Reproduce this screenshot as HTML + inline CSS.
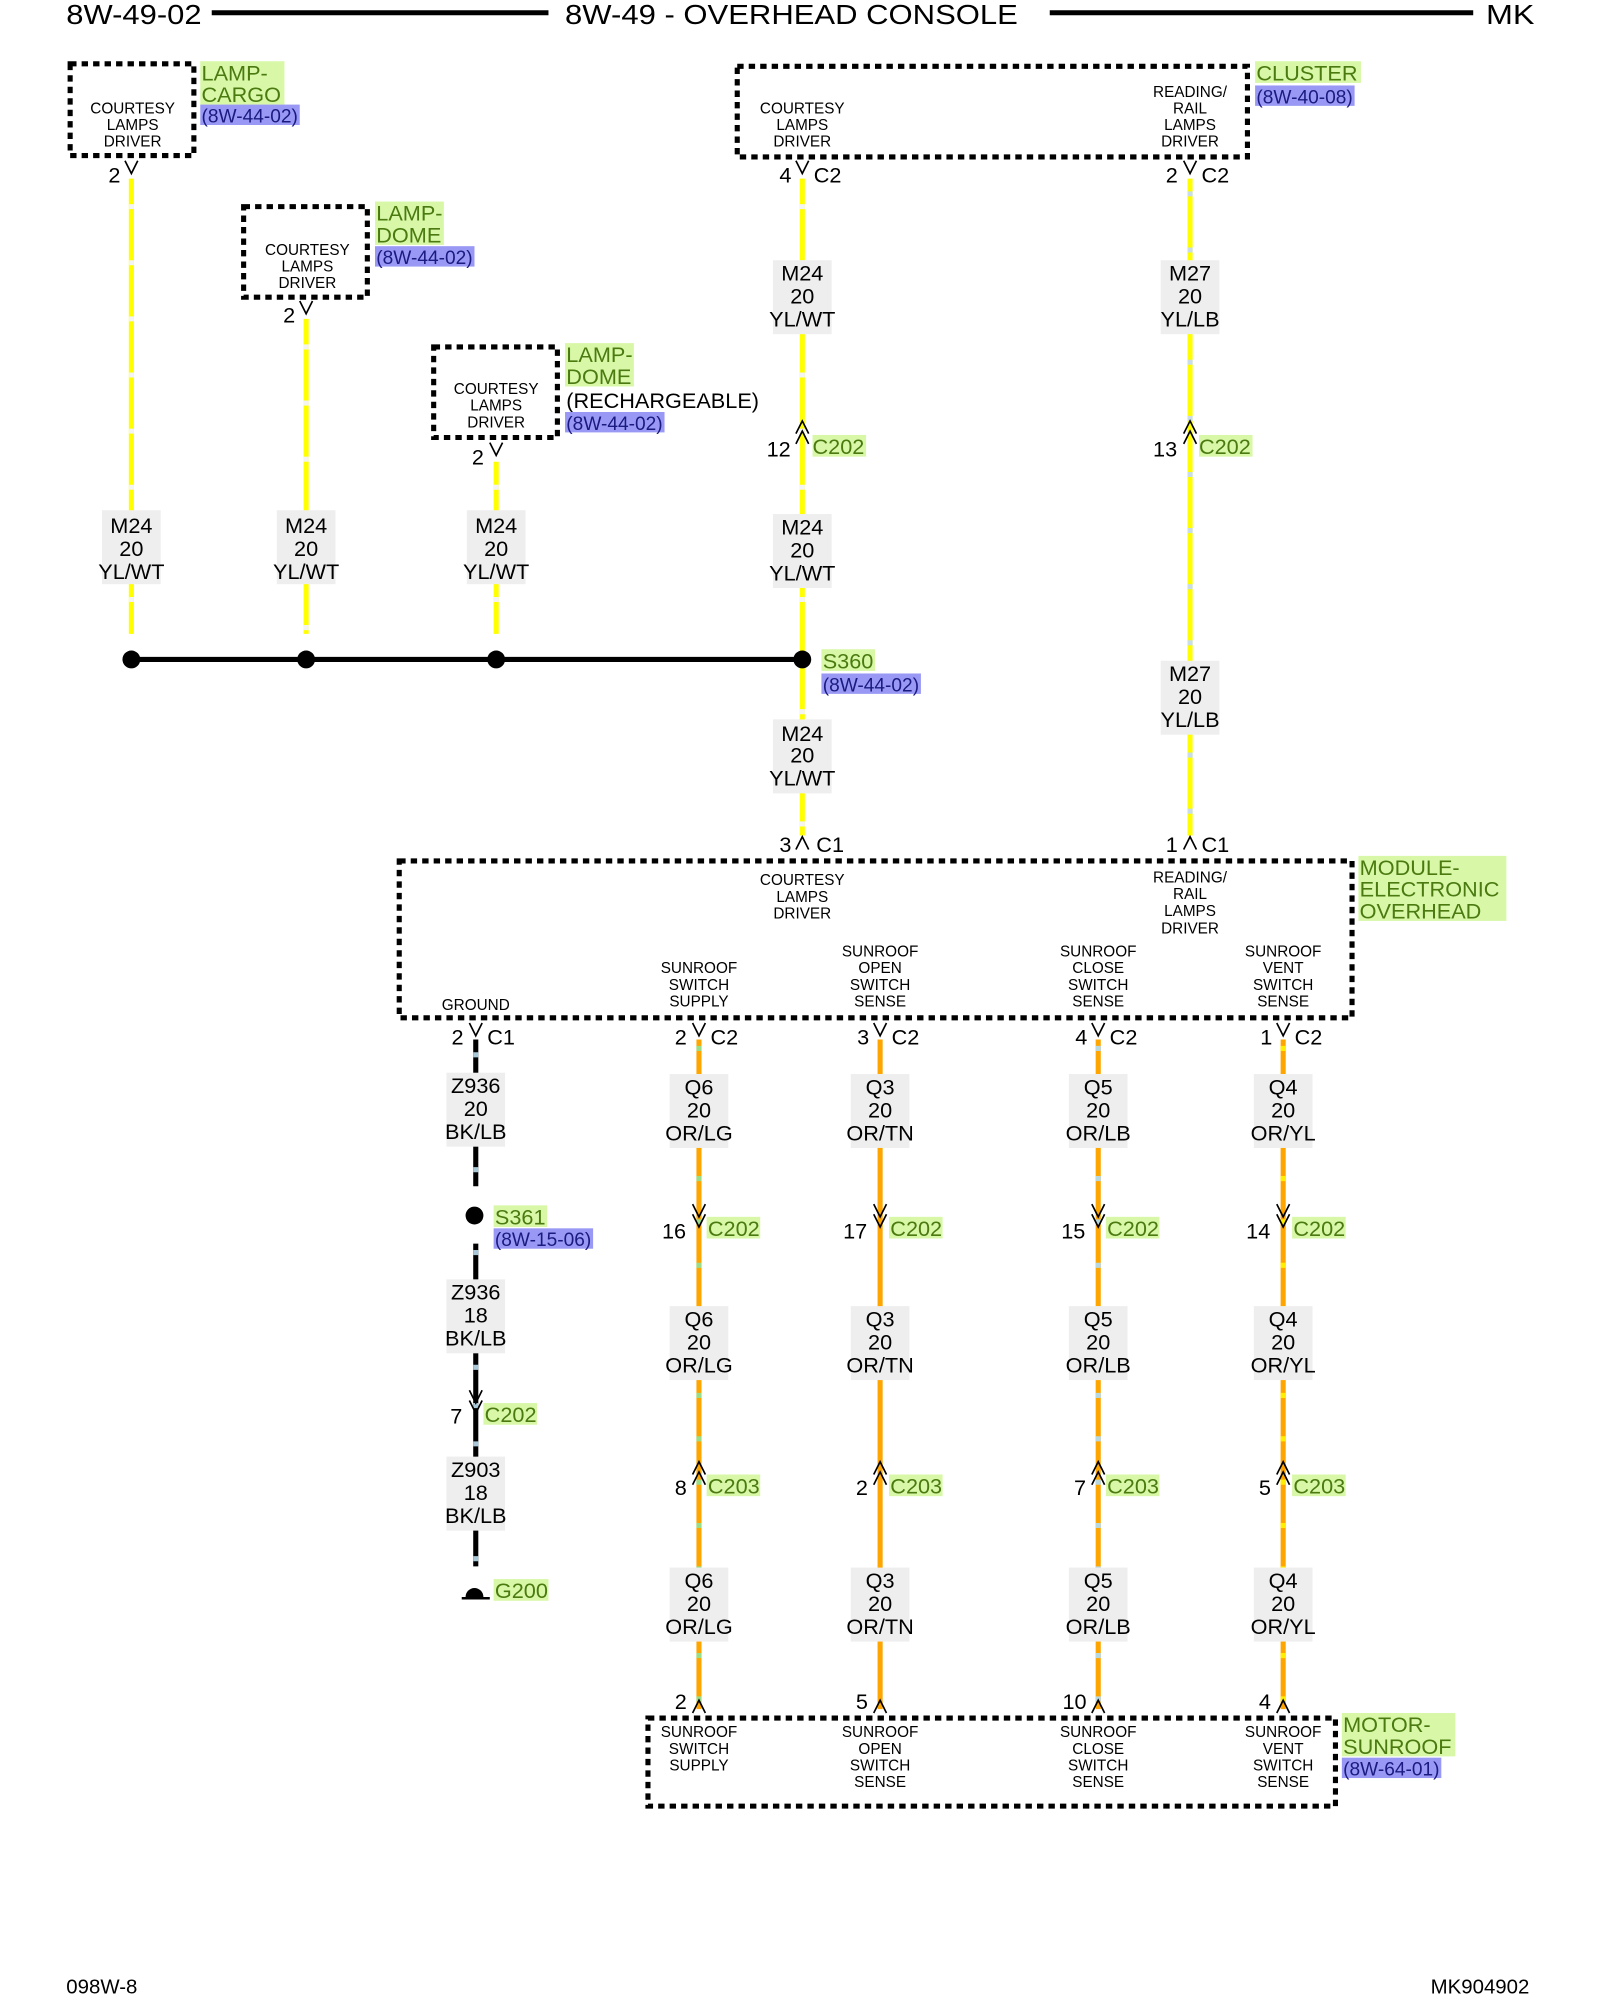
<!DOCTYPE html>
<html><head><meta charset="utf-8"><style>
html,body{margin:0;padding:0;background:#fff}
svg{display:block}
text{font-family:"Liberation Sans",sans-serif;fill:#000}
.h{font-size:22px}
.s{font-size:12px;text-anchor:middle}
.w{font-size:17px;text-anchor:middle}
.p{font-size:17px}
.g{font-size:17px;fill:#4a7a10}
.b{font-size:15px;fill:#1a1a80}
.box{fill:none;stroke:#000;stroke-width:4;stroke-dasharray:5 4}
.yl{stroke:#ffff00;stroke-width:4}
.yd{stroke:#f4f4f4;stroke-width:4;stroke-dasharray:4 40}
.or{stroke:#ffa500;stroke-width:4}
.od{stroke:#99dd88;stroke-width:4;stroke-dasharray:4 30}
.bk{stroke:#000;stroke-width:4}
.bd{stroke:#a8c8d8;stroke-width:4;stroke-dasharray:4 26}
.lb{fill:#eeeeee}
.gb{fill:#d8f8a8}
.bb{fill:#9999f5}
.ch{fill:none;stroke:#000;stroke-width:1.3}
</style></head><body>
<svg width="1600" height="2000" viewBox="0 0 1254.4 1568" preserveAspectRatio="none" xmlns="http://www.w3.org/2000/svg">
<text class="h" x="52" y="19" textLength="106" lengthAdjust="spacingAndGlyphs">8W-49-02</text>
<line x1="166" y1="10" x2="430" y2="10" stroke="#000" stroke-width="4"/>
<text class="h" x="443" y="19" textLength="355" lengthAdjust="spacingAndGlyphs">8W-49 - OVERHEAD CONSOLE</text>
<line x1="823" y1="10" x2="1155" y2="10" stroke="#000" stroke-width="4"/>
<text class="h" x="1165" y="19" textLength="38" lengthAdjust="spacingAndGlyphs">MK</text>

<g>
<line class="yl" x1="103" y1="140" x2="103" y2="497"/><line class="yd" x1="103" y1="160" x2="103" y2="497"/>
<line class="yl" x1="240" y1="250" x2="240" y2="497"/><line class="yd" x1="240" y1="270" x2="240" y2="497"/>
<line class="yl" x1="389" y1="362" x2="389" y2="497"/><line class="yd" x1="389" y1="380" x2="389" y2="497"/>
<line class="yl" x1="629" y1="140" x2="629" y2="655"/><line class="yd" x1="629" y1="160" x2="629" y2="655"/>
<line class="yl" x1="933" y1="140" x2="933" y2="655"/><line class="yd" x1="933" y1="150" x2="933" y2="655" style="stroke:#c8dde8"/>
</g>

<rect class="box" x="55" y="50" width="97" height="72"/>
<text class="s" x="104" y="89">COURTESY</text><text class="s" x="104" y="102">LAMPS</text><text class="s" x="104" y="115">DRIVER</text>
<rect class="gb" x="157" y="48" width="66" height="34"/><text class="g" x="158" y="63">LAMP-</text><text class="g" x="158" y="80">CARGO</text>
<rect class="bb" x="157" y="82" width="78" height="16"/><text class="b" x="158" y="96">(8W-44-02)</text>
<text class="p" x="85" y="143">2</text><polyline class="ch" points="98,126 103,136 108,126"/>

<rect class="box" x="191" y="162" width="97" height="71"/>
<text class="s" x="241" y="200">COURTESY</text><text class="s" x="241" y="213">LAMPS</text><text class="s" x="241" y="226">DRIVER</text>
<rect class="gb" x="294" y="158" width="54" height="34"/><text class="g" x="295" y="173">LAMP-</text><text class="g" x="295" y="190">DOME</text>
<rect class="bb" x="294" y="193" width="78" height="16"/><text class="b" x="295" y="207">(8W-44-02)</text>
<text class="p" x="222" y="253">2</text><polyline class="ch" points="235,236 240,246 245,236"/>

<rect class="box" x="340" y="272" width="97" height="71"/>
<text class="s" x="389" y="309">COURTESY</text><text class="s" x="389" y="322">LAMPS</text><text class="s" x="389" y="335">DRIVER</text>
<rect class="gb" x="443" y="269" width="54" height="34"/><text class="g" x="444" y="284">LAMP-</text><text class="g" x="444" y="301">DOME</text>
<text class="p" x="444" y="320">(RECHARGEABLE)</text>
<rect class="bb" x="443" y="323" width="78" height="16"/><text class="b" x="444" y="337">(8W-44-02)</text>
<text class="p" x="370" y="364">2</text><polyline class="ch" points="384,347 389,357 394,347"/>

<rect class="box" x="578" y="52" width="400" height="71"/>
<text class="s" x="629" y="89">COURTESY</text><text class="s" x="629" y="102">LAMPS</text><text class="s" x="629" y="115">DRIVER</text>
<text class="s" x="933" y="76">READING/</text><text class="s" x="933" y="89">RAIL</text><text class="s" x="933" y="102">LAMPS</text><text class="s" x="933" y="115">DRIVER</text>
<rect class="gb" x="984" y="48" width="83" height="17"/><text class="g" x="985" y="63">CLUSTER</text>
<rect class="bb" x="984" y="67" width="78" height="16"/><text class="b" x="985" y="81">(8W-40-08)</text>
<text class="p" x="611" y="143">4</text><polyline class="ch" points="624,126 629,136 634,126"/><text class="p" x="638" y="143">C2</text>
<text class="p" x="914" y="143">2</text><polyline class="ch" points="928,126 933,136 938,126"/><text class="p" x="942" y="143">C2</text>

<g>
<rect class="lb" x="80" y="400" width="46" height="58"/><text class="w" x="103" y="418">M24</text><text class="w" x="103" y="436">20</text><text class="w" x="103" y="454">YL/WT</text>
<rect class="lb" x="217" y="400" width="46" height="58"/><text class="w" x="240" y="418">M24</text><text class="w" x="240" y="436">20</text><text class="w" x="240" y="454">YL/WT</text>
<rect class="lb" x="366" y="400" width="46" height="58"/><text class="w" x="389" y="418">M24</text><text class="w" x="389" y="436">20</text><text class="w" x="389" y="454">YL/WT</text>
<rect class="lb" x="606" y="204" width="46" height="58"/><text class="w" x="629" y="220">M24</text><text class="w" x="629" y="238">20</text><text class="w" x="629" y="256">YL/WT</text>
<rect class="lb" x="606" y="403" width="46" height="58"/><text class="w" x="629" y="419">M24</text><text class="w" x="629" y="437">20</text><text class="w" x="629" y="455">YL/WT</text>
<rect class="lb" x="606" y="564" width="46" height="58"/><text class="w" x="629" y="581">M24</text><text class="w" x="629" y="598">20</text><text class="w" x="629" y="616">YL/WT</text>
<rect class="lb" x="910" y="204" width="46" height="58"/><text class="w" x="933" y="220">M27</text><text class="w" x="933" y="238">20</text><text class="w" x="933" y="256">YL/LB</text>
<rect class="lb" x="910" y="518" width="46" height="58"/><text class="w" x="933" y="534">M27</text><text class="w" x="933" y="552">20</text><text class="w" x="933" y="570">YL/LB</text>
</g>

<rect class="gb" x="637" y="341" width="42" height="17"/><text class="g" x="637" y="356">C202</text>
<text class="p" x="601" y="358">12</text><polyline class="ch" points="624,340 629,330 634,340"/><polyline class="ch" points="624,348 629,338 634,348"/>
<rect class="gb" x="940" y="341" width="42" height="17"/><text class="g" x="940" y="356">C202</text>
<text class="p" x="904" y="358">13</text><polyline class="ch" points="928,340 933,330 938,340"/><polyline class="ch" points="928,348 933,338 938,348"/>

<line x1="103" y1="517" x2="629" y2="517" stroke="#000" stroke-width="4"/>
<circle cx="103" cy="517" r="7"/><circle cx="240" cy="517" r="7"/><circle cx="389" cy="517" r="7"/><circle cx="629" cy="517" r="7"/>
<rect class="gb" x="644" y="509" width="42" height="17"/><text class="g" x="645" y="524">S360</text>
<rect class="bb" x="644" y="528" width="78" height="16"/><text class="b" x="645" y="542">(8W-44-02)</text>

<text class="p" x="611" y="668">3</text><polyline class="ch" points="624,666 629,656 634,666"/><text class="p" x="640" y="668">C1</text>
<text class="p" x="914" y="668">1</text><polyline class="ch" points="928,666 933,656 938,666"/><text class="p" x="942" y="668">C1</text>

<rect class="box" x="313" y="675" width="747" height="123"/>
<text class="s" x="629" y="694">COURTESY</text><text class="s" x="629" y="707">LAMPS</text><text class="s" x="629" y="720">DRIVER</text>
<text class="s" x="933" y="692">READING/</text><text class="s" x="933" y="705">RAIL</text><text class="s" x="933" y="718">LAMPS</text><text class="s" x="933" y="732">DRIVER</text>
<text class="s" x="373" y="792">GROUND</text>
<text class="s" x="548" y="763">SUNROOF</text><text class="s" x="548" y="776">SWITCH</text><text class="s" x="548" y="789">SUPPLY</text>
<text class="s" x="690" y="750">SUNROOF</text><text class="s" x="690" y="763">OPEN</text><text class="s" x="690" y="776">SWITCH</text><text class="s" x="690" y="789">SENSE</text>
<text class="s" x="861" y="750">SUNROOF</text><text class="s" x="861" y="763">CLOSE</text><text class="s" x="861" y="776">SWITCH</text><text class="s" x="861" y="789">SENSE</text>
<text class="s" x="1006" y="750">SUNROOF</text><text class="s" x="1006" y="763">VENT</text><text class="s" x="1006" y="776">SWITCH</text><text class="s" x="1006" y="789">SENSE</text>
<rect class="gb" x="1065" y="671" width="116" height="51"/>
<text class="g" x="1066" y="686">MODULE-</text><text class="g" x="1066" y="703">ELECTRONIC</text><text class="g" x="1066" y="720">OVERHEAD</text>

<line class="bk" x1="373" y1="815" x2="373" y2="930"/><line class="bd" x1="373" y1="825" x2="373" y2="930"/>
<line class="bk" x1="373" y1="975" x2="373" y2="1228"/><line class="bd" x1="373" y1="980" x2="373" y2="1228"/>
<line class="or" x1="548" y1="815" x2="548" y2="1340"/><line class="od" x1="548" y1="820" x2="548" y2="1340"/>
<line class="or" x1="690" y1="815" x2="690" y2="1340"/>
<line class="or" x1="861" y1="815" x2="861" y2="1340"/><line class="od" x1="861" y1="820" x2="861" y2="1340" style="stroke:#b8d8e0"/>
<line class="or" x1="1006" y1="815" x2="1006" y2="1340"/><line class="od" x1="1006" y1="820" x2="1006" y2="1340" style="stroke:#ffee00"/>

<text class="p" x="354" y="819">2</text><polyline class="ch" points="368,802 373,812 378,802"/><text class="p" x="382" y="819">C1</text>
<text class="p" x="529" y="819">2</text><polyline class="ch" points="543,802 548,812 553,802"/><text class="p" x="557" y="819">C2</text>
<text class="p" x="672" y="819">3</text><polyline class="ch" points="685,802 690,812 695,802"/><text class="p" x="699" y="819">C2</text>
<text class="p" x="843" y="819">4</text><polyline class="ch" points="856,802 861,812 866,802"/><text class="p" x="870" y="819">C2</text>
<text class="p" x="988" y="819">1</text><polyline class="ch" points="1001,802 1006,812 1011,802"/><text class="p" x="1015" y="819">C2</text>

<rect class="lb" x="350" y="841" width="46" height="58"/><text class="w" x="373" y="857">Z936</text><text class="w" x="373" y="875">20</text><text class="w" x="373" y="893">BK/LB</text>
<circle cx="372" cy="953" r="7"/>
<rect class="gb" x="387" y="945" width="42" height="17"/><text class="g" x="388" y="960">S361</text>
<rect class="bb" x="387" y="963" width="78" height="16"/><text class="b" x="388" y="977">(8W-15-06)</text>
<rect class="lb" x="350" y="1003" width="46" height="58"/><text class="w" x="373" y="1019">Z936</text><text class="w" x="373" y="1037">18</text><text class="w" x="373" y="1055">BK/LB</text>
<text class="p" x="353" y="1116">7</text><polyline class="ch" points="368,1090 373,1100 378,1090"/><polyline class="ch" points="368,1098 373,1108 378,1098"/>
<rect class="gb" x="379" y="1100" width="42" height="17"/><text class="g" x="380" y="1115">C202</text>
<rect class="lb" x="350" y="1142" width="46" height="58"/><text class="w" x="373" y="1158">Z903</text><text class="w" x="373" y="1176">18</text><text class="w" x="373" y="1194">BK/LB</text>
<path d="M365,1252 A7,7 0 0 1 379,1252 Z" fill="#000"/><line x1="362" y1="1253" x2="384" y2="1253" stroke="#000" stroke-width="2"/>
<rect class="gb" x="387" y="1238" width="43" height="17"/><text class="g" x="388" y="1253">G200</text>

<g>
<rect class="lb" x="525" y="842" width="46" height="58"/><text class="w" x="548" y="858">Q6</text><text class="w" x="548" y="876">20</text><text class="w" x="548" y="894">OR/LG</text>
<rect class="lb" x="667" y="842" width="46" height="58"/><text class="w" x="690" y="858">Q3</text><text class="w" x="690" y="876">20</text><text class="w" x="690" y="894">OR/TN</text>
<rect class="lb" x="838" y="842" width="46" height="58"/><text class="w" x="861" y="858">Q5</text><text class="w" x="861" y="876">20</text><text class="w" x="861" y="894">OR/LB</text>
<rect class="lb" x="983" y="842" width="46" height="58"/><text class="w" x="1006" y="858">Q4</text><text class="w" x="1006" y="876">20</text><text class="w" x="1006" y="894">OR/YL</text>

<rect class="lb" x="525" y="1024" width="46" height="58"/><text class="w" x="548" y="1040">Q6</text><text class="w" x="548" y="1058">20</text><text class="w" x="548" y="1076">OR/LG</text>
<rect class="lb" x="667" y="1024" width="46" height="58"/><text class="w" x="690" y="1040">Q3</text><text class="w" x="690" y="1058">20</text><text class="w" x="690" y="1076">OR/TN</text>
<rect class="lb" x="838" y="1024" width="46" height="58"/><text class="w" x="861" y="1040">Q5</text><text class="w" x="861" y="1058">20</text><text class="w" x="861" y="1076">OR/LB</text>
<rect class="lb" x="983" y="1024" width="46" height="58"/><text class="w" x="1006" y="1040">Q4</text><text class="w" x="1006" y="1058">20</text><text class="w" x="1006" y="1076">OR/YL</text>

<rect class="lb" x="525" y="1229" width="46" height="58"/><text class="w" x="548" y="1245">Q6</text><text class="w" x="548" y="1263">20</text><text class="w" x="548" y="1281">OR/LG</text>
<rect class="lb" x="667" y="1229" width="46" height="58"/><text class="w" x="690" y="1245">Q3</text><text class="w" x="690" y="1263">20</text><text class="w" x="690" y="1281">OR/TN</text>
<rect class="lb" x="838" y="1229" width="46" height="58"/><text class="w" x="861" y="1245">Q5</text><text class="w" x="861" y="1263">20</text><text class="w" x="861" y="1281">OR/LB</text>
<rect class="lb" x="983" y="1229" width="46" height="58"/><text class="w" x="1006" y="1245">Q4</text><text class="w" x="1006" y="1263">20</text><text class="w" x="1006" y="1281">OR/YL</text>
</g>

<text class="p" x="519" y="971">16</text><polyline class="ch" points="543,944 548,954 553,944"/><polyline class="ch" points="543,952 548,962 553,952"/>
<rect class="gb" x="554" y="954" width="42" height="17"/><text class="g" x="555" y="969">C202</text>
<text class="p" x="661" y="971">17</text><polyline class="ch" points="685,944 690,954 695,944"/><polyline class="ch" points="685,952 690,962 695,952"/>
<rect class="gb" x="697" y="954" width="42" height="17"/><text class="g" x="698" y="969">C202</text>
<text class="p" x="832" y="971">15</text><polyline class="ch" points="856,944 861,954 866,944"/><polyline class="ch" points="856,952 861,962 866,952"/>
<rect class="gb" x="867" y="954" width="42" height="17"/><text class="g" x="868" y="969">C202</text>
<text class="p" x="977" y="971">14</text><polyline class="ch" points="1001,944 1006,954 1011,944"/><polyline class="ch" points="1001,952 1006,962 1011,952"/>
<rect class="gb" x="1013" y="954" width="42" height="17"/><text class="g" x="1014" y="969">C202</text>

<text class="p" x="529" y="1172">8</text><polyline class="ch" points="543,1156 548,1146 553,1156"/><polyline class="ch" points="543,1164 548,1154 553,1164"/>
<rect class="gb" x="554" y="1156" width="42" height="17"/><text class="g" x="555" y="1171">C203</text>
<text class="p" x="671" y="1172">2</text><polyline class="ch" points="685,1156 690,1146 695,1156"/><polyline class="ch" points="685,1164 690,1154 695,1164"/>
<rect class="gb" x="697" y="1156" width="42" height="17"/><text class="g" x="698" y="1171">C203</text>
<text class="p" x="842" y="1172">7</text><polyline class="ch" points="856,1156 861,1146 866,1156"/><polyline class="ch" points="856,1164 861,1154 866,1164"/>
<rect class="gb" x="867" y="1156" width="42" height="17"/><text class="g" x="868" y="1171">C203</text>
<text class="p" x="987" y="1172">5</text><polyline class="ch" points="1001,1156 1006,1146 1011,1156"/><polyline class="ch" points="1001,1164 1006,1154 1011,1164"/>
<rect class="gb" x="1013" y="1156" width="42" height="17"/><text class="g" x="1014" y="1171">C203</text>

<text class="p" x="529" y="1340">2</text><polyline class="ch" points="543,1343 548,1333 553,1343"/>
<text class="p" x="671" y="1340">5</text><polyline class="ch" points="685,1343 690,1333 695,1343"/>
<text class="p" x="833" y="1340">10</text><polyline class="ch" points="856,1343 861,1333 866,1343"/>
<text class="p" x="987" y="1340">4</text><polyline class="ch" points="1001,1343 1006,1333 1011,1343"/>

<rect class="box" x="508" y="1347" width="539" height="69"/>
<text class="s" x="548" y="1362">SUNROOF</text><text class="s" x="548" y="1375">SWITCH</text><text class="s" x="548" y="1388">SUPPLY</text>
<text class="s" x="690" y="1362">SUNROOF</text><text class="s" x="690" y="1375">OPEN</text><text class="s" x="690" y="1388">SWITCH</text><text class="s" x="690" y="1401">SENSE</text>
<text class="s" x="861" y="1362">SUNROOF</text><text class="s" x="861" y="1375">CLOSE</text><text class="s" x="861" y="1388">SWITCH</text><text class="s" x="861" y="1401">SENSE</text>
<text class="s" x="1006" y="1362">SUNROOF</text><text class="s" x="1006" y="1375">VENT</text><text class="s" x="1006" y="1388">SWITCH</text><text class="s" x="1006" y="1401">SENSE</text>
<rect class="gb" x="1052" y="1343" width="89" height="34"/>
<text class="g" x="1053" y="1358">MOTOR-</text><text class="g" x="1053" y="1375">SUNROOF</text>
<rect class="bb" x="1052" y="1378" width="78" height="16"/><text class="b" x="1053" y="1392">(8W-64-01)</text>

<text x="52" y="1563" style="font-size:16px">098W-8</text>
<text x="1199" y="1563" style="font-size:16px;text-anchor:end">MK904902</text>
</svg>
</body></html>
